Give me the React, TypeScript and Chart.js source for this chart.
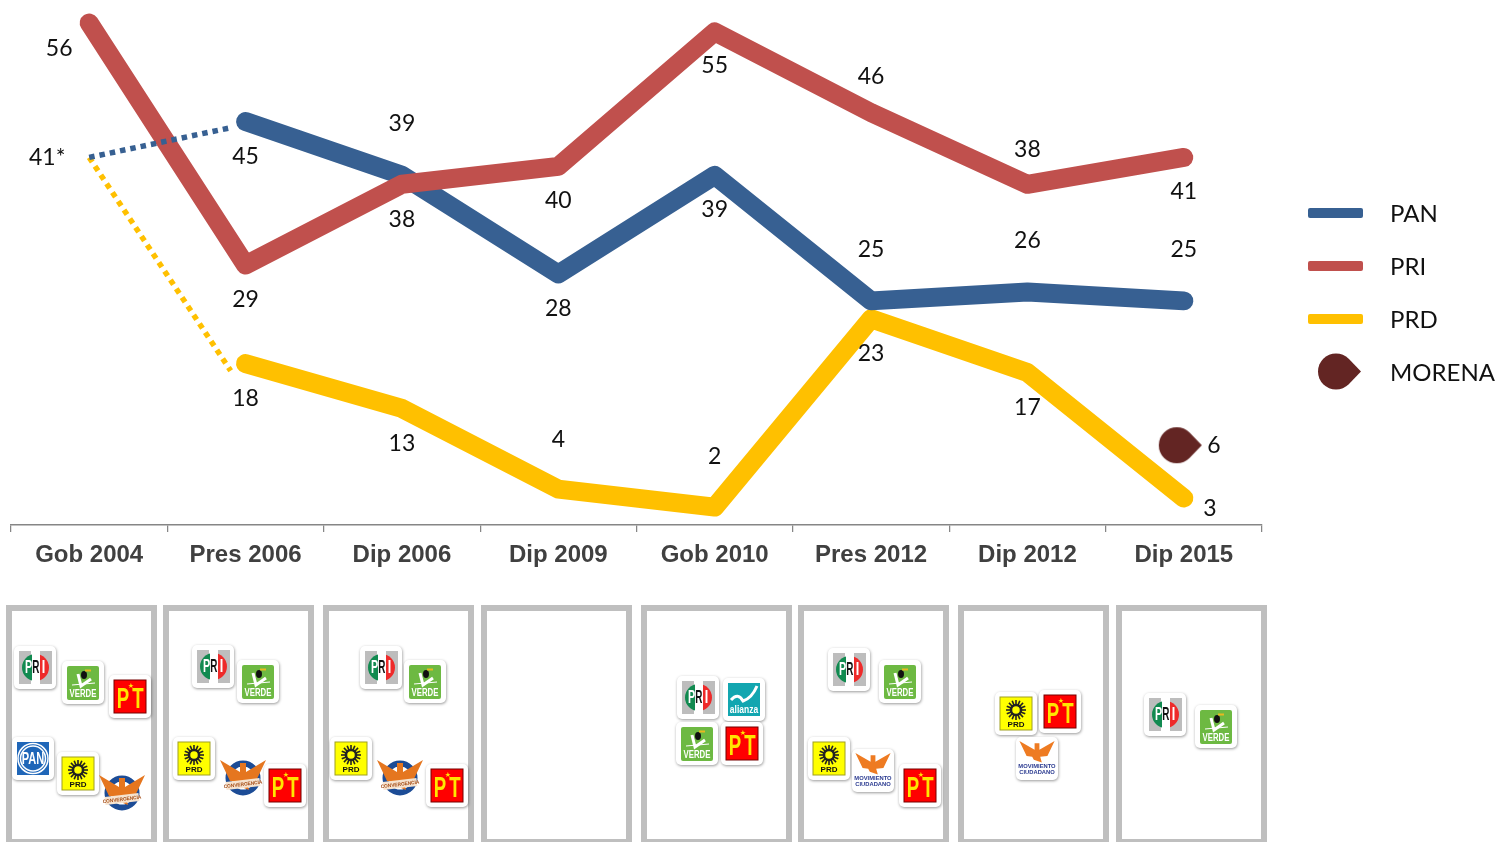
import React, { useEffect, useRef } from "react";
import { Chart, registerables } from "chart.js";

Chart.register(...registerables);

// ---------- data ----------
const categories = ["Gob 2004", "Pres 2006", "Dip 2006", "Dip 2009", "Gob 2010", "Pres 2012", "Dip 2012", "Dip 2015"];
const panValues = [null, 45, 39, 28, 39, 25, 26, 25];
const priValues = [56, 29, 38, 40, 55, 46, 38, 41];
const prdValues = [null, 18, 13, 4, 2, 23, 17, 3];
const morenaValues = [null, null, null, null, null, null, null, 6];
const coalitionValue = 41;
const coalitionLabel = "41*";
const panLink = [{ x: 0, y: coalitionValue }, { x: 0.9, y: 44.3 }];
const prdLink = [{ x: 0, y: coalitionValue }, { x: 0.905, y: 17.2 }];
const legendNames = ["PAN", "PRI", "PRD", "MORENA"];
const coalitions = [
  ["PRI", "VERDE", "PT", "PAN", "PRD", "CONV"],
  ["PRI", "VERDE", "PRD", "CONV", "PT"],
  ["PRI", "VERDE", "PRD", "CONV", "PT"],
  [],
  ["PRI", "ALIANZA", "VERDE", "PT"],
  ["PRI", "VERDE", "PRD", "MC", "PT"],
  ["PRD", "PT", "MC"],
  ["PRI", "VERDE"],
];

// ---------- layout & style ----------
const W = 1498, H = 842;
const BLUE = "#376092", RED = "#C0504D", GOLD = "#FFC000", MAROON = "#632523";
const TEXT_FONT = '"Lato"';
const LABEL_SIZE = 23;
const panelX = [6, 163, 323, 481, 641, 798, 958, 1116];
const logoPos = [
  [[14, 646], [62, 661], [109, 675], [12, 737], [57, 752], [99, 773]],
  [[192, 645], [237, 660], [173, 737], [220, 758], [264, 764]],
  [[360, 646], [404, 660], [330, 737], [377, 758], [426, 764]],
  [],
  [[677, 676], [723, 678], [676, 722], [721, 722]],
  [[828, 648], [879, 660], [808, 737], [852, 749], [899, 764]],
  [[995, 692], [1039, 690], [1016, 737]],
  [[1144, 693], [1195, 705]],
];
// label offsets from each point: [dx, dy]
const panOff = [null, [0, 35], [0, -52], [0, 35], [0, 34], [0, -51], [0, -51], [0, -51]];
const priOff = [[-30, 26], [0, 35], [0, 35], [0, 34], [0, 34], [0, -36], [0, -35], [0, 34]];
const prdOff = [null, [0, 35], [0, 35], [0, -50], [0, -50], [0, 35], [0, 35], [26, 10]];

function drop(ctx: CanvasRenderingContext2D, cx: number, cy: number) {
  ctx.fillStyle = MAROON;
  ctx.beginPath();
  ctx.arc(cx, cy, 18, Math.PI * 0.25, Math.PI * 1.75);
  ctx.lineTo(cx + 25, cy);
  ctx.closePath();
  ctx.fill();
}
function morenaPoint() {
  const c = document.createElement("canvas");
  c.width = 100; c.height = 100;
  drop(c.getContext("2d")!, 43, 24);
  return c;
}

function card(c: CanvasRenderingContext2D, x: number, y: number) {
  c.save();
  c.shadowColor = "rgba(0,0,0,0.4)"; c.shadowBlur = 3; c.shadowOffsetX = 0.5; c.shadowOffsetY = 1;
  c.fillStyle = "#fff";
  c.beginPath(); c.roundRect(x, y, 42, 43, 5); c.fill();
  c.restore();
}
// text, squeezed horizontally by sx
function txt(c: CanvasRenderingContext2D, s: string, x: number, y: number, font: string, color: string, sx = 1) {
  c.save();
  c.translate(x, y); c.scale(sx, 1);
  c.font = font; c.fillStyle = color; c.textAlign = "center"; c.textBaseline = "middle";
  c.fillText(s, 0, 0);
  c.restore();
}
const ARIAL = '"Liberation Sans"';
function logoPRI(c: CanvasRenderingContext2D, x: number, y: number) {
  card(c, x, y);
  c.fillStyle = "#bdbdbd"; c.fillRect(x + 5, y + 5, 12, 33); c.fillRect(x + 26, y + 5, 12, 33);
  c.fillStyle = "#fff"; c.fillRect(x + 17, y + 5, 9, 33);
  c.fillStyle = "#118a50"; c.beginPath(); c.arc(x + 21.5, y + 21.5, 13.5, Math.PI / 2, Math.PI * 1.5); c.fill();
  c.fillStyle = "#ee2a2a"; c.beginPath(); c.arc(x + 21.5, y + 21.5, 13.5, -Math.PI / 2, Math.PI / 2); c.fill();
  c.fillStyle = "#fff"; c.fillRect(x + 18, y + 8, 8, 27);
  txt(c, "P", x + 14.5, y + 22, `bold 18px ${ARIAL}`, "#fff", 0.6);
  txt(c, "R", x + 21.8, y + 22, `bold 18px ${ARIAL}`, "#111", 0.55);
  txt(c, "I", x + 29.5, y + 22, `bold 18px ${ARIAL}`, "#fff", 0.7);
}
function logoVerde(c: CanvasRenderingContext2D, x: number, y: number) {
  card(c, x, y);
  c.fillStyle = "#6db942"; c.beginPath(); c.roundRect(x + 5, y + 5, 32, 34, 2); c.fill();
  c.strokeStyle = "#fff"; c.lineWidth = 3; c.beginPath();
  c.moveTo(x + 16, y + 13); c.lineTo(x + 19, y + 25); c.lineTo(x + 29, y + 18); c.stroke();
  c.lineWidth = 1; c.beginPath(); c.moveTo(x + 10, y + 24); c.lineTo(x + 33, y + 22); c.stroke();
  c.fillStyle = "#111"; c.beginPath(); c.ellipse(x + 22, y + 14, 3, 4, 0, 0, 7); c.fill();
  c.fillStyle = "#e8b820"; c.fillRect(x + 23, y + 8.5, 6, 2);
  txt(c, "VERDE", x + 21, y + 33, `bold 10px ${ARIAL}`, "#fff", 0.78);
}
function logoPT(c: CanvasRenderingContext2D, x: number, y: number) {
  card(c, x, y);
  c.fillStyle = "#f00"; c.fillRect(x + 5, y + 5, 32, 33);
  c.strokeStyle = "#700"; c.lineWidth = 1; c.strokeRect(x + 5, y + 5, 32, 33);
  txt(c, "P", x + 14, y + 25, `bold 30px ${ARIAL}`, "#ffe600", 0.62);
  txt(c, "T", x + 29, y + 25, `bold 30px ${ARIAL}`, "#ffe600", 0.62);
  txt(c, "★", x + 22, y + 11, `7px "DejaVu Sans"`, "#ffe600");
}
function logoPAN(c: CanvasRenderingContext2D, x: number, y: number) {
  card(c, x, y);
  c.fillStyle = "#1f66b8"; c.fillRect(x + 5, y + 5, 32, 33);
  c.strokeStyle = "#fff"; c.lineWidth = 1.5;
  c.beginPath(); c.arc(x + 21, y + 21.5, 15, 0, 7); c.stroke();
  c.beginPath(); c.arc(x + 21, y + 21.5, 12.5, 0, 7); c.stroke();
  txt(c, "PAN", x + 21, y + 22, `bold 17px ${ARIAL}`, "#fff", 0.65);
}
function logoPRD(c: CanvasRenderingContext2D, x: number, y: number) {
  card(c, x, y);
  c.fillStyle = "#ffff00"; c.fillRect(x + 5, y + 5, 32, 33);
  c.strokeStyle = "#a0a020"; c.lineWidth = 1; c.strokeRect(x + 5, y + 5, 32, 33);
  const cx = x + 21, cy = y + 18;
  c.strokeStyle = "#222"; c.lineWidth = 1.6;
  for (let i = 0; i < 16; i++) {
    const a = (i / 16) * Math.PI * 2;
    c.beginPath(); c.moveTo(cx + Math.cos(a) * 5, cy + Math.sin(a) * 5); c.lineTo(cx + Math.cos(a) * 10, cy + Math.sin(a) * 10); c.stroke();
  }
  c.lineWidth = 2.5; c.beginPath(); c.arc(cx, cy, 5, 0, 7); c.stroke();
  txt(c, "PRD", x + 21, y + 33, `bold 8px ${ARIAL}`, "#111");
}
function wings(c: CanvasRenderingContext2D, cx: number, top: number, w: number, color: string) {
  c.fillStyle = color;
  c.beginPath();
  c.moveTo(cx - w, top); c.lineTo(cx - 3, top + 12); c.lineTo(cx - 3, top + 3); c.lineTo(cx + 3, top + 3); c.lineTo(cx + 3, top + 12);
  c.lineTo(cx + w, top); c.lineTo(cx + 13, top + 21); c.lineTo(cx + 4, top + 22); c.lineTo(cx + 6, top + 30); c.lineTo(cx - 4, top + 26); c.lineTo(cx - 6, top + 22);
  c.lineTo(cx - 13, top + 21); c.closePath(); c.fill();
}
function logoConv(c: CanvasRenderingContext2D, x: number, y: number) {
  const cx = x + 23, cy = y + 20;
  c.strokeStyle = "#1c4c96"; c.lineWidth = 6;
  c.beginPath(); c.arc(cx, cy, 14.5, 0, 7); c.stroke();
  wings(c, cx, y + 2, 23, "#e5761f");
  c.save(); c.translate(cx, y + 26); c.rotate(-0.12);
  c.fillStyle = "#f6e3cf"; c.fillRect(-17, -4, 34, 8);
  txt(c, "CONVERGENCIA", 0, 0.5, `bold 5px ${ARIAL}`, "#a54c16", 0.95);
  c.restore();
}
function logoMC(c: CanvasRenderingContext2D, x: number, y: number) {
  card(c, x, y);
  c.save(); c.translate(x + 21, y + 4); c.scale(0.8, 0.72);
  wings(c, 0, 0, 22, "#ee7b22");
  c.restore();
  txt(c, "MOVIMIENTO", x + 21, y + 29, `bold 5.8px ${ARIAL}`, "#2a3a90");
  txt(c, "CIUDADANO", x + 21, y + 35, `bold 5.8px ${ARIAL}`, "#2a3a90");
}
function logoAlianza(c: CanvasRenderingContext2D, x: number, y: number) {
  card(c, x, y);
  c.fillStyle = "#12a6b0"; c.fillRect(x + 5, y + 5, 32, 33);
  c.strokeStyle = "#fff"; c.lineWidth = 3; c.beginPath();
  c.moveTo(x + 8, y + 22); c.quadraticCurveTo(x + 15, y + 14, x + 20, y + 23); c.quadraticCurveTo(x + 29, y + 20, x + 34, y + 8); c.stroke();
  txt(c, "alianza", x + 21, y + 32, `bold 10px ${ARIAL}`, "#fff", 0.85);
}
const logoDraw: Record<string, (c: CanvasRenderingContext2D, x: number, y: number) => void> = {
  PRI: logoPRI, VERDE: logoVerde, PT: logoPT, PAN: logoPAN, PRD: logoPRD, CONV: logoConv, MC: logoMC, ALIANZA: logoAlianza,
};

const decorations = {
  id: "decorations",
  beforeDatasetsDraw(chart: any) {
    const c: CanvasRenderingContext2D = chart.ctx;
    c.save();
    c.strokeStyle = "#bfbfbf"; c.lineWidth = 6;
    panelX.forEach((x) => c.strokeRect(x + 3, 608, 145, 234));
    coalitions.forEach((list, i) => {
      list.forEach((name, j) => logoDraw[name](c, logoPos[i][j][0], logoPos[i][j][1]));
    });
    c.restore();
  },
  afterDatasetsDraw(chart: any) {
    const c: CanvasRenderingContext2D = chart.ctx;
    const xs = chart.scales.x, ys = chart.scales.y;
    c.save();
    c.textAlign = "center"; c.textBaseline = "middle";
    c.font = `${LABEL_SIZE}px ${TEXT_FONT}`; c.fillStyle = "#111";
    const put = (vals: (number | null)[], off: any[]) =>
      vals.forEach((v, i) => {
        if (v == null) return;
        c.fillText(String(v), xs.getPixelForValue(i) + off[i][0], ys.getPixelForValue(v) + off[i][1]);
      });
    put(panValues, panOff);
    put(priValues, priOff);
    put(prdValues, prdOff);
    c.fillText(String(morenaValues[7]), xs.getPixelForValue(7) + 30, ys.getPixelForValue(6) - 26);
    c.fillText(coalitionLabel, xs.getPixelForValue(0) - 42, ys.getPixelForValue(coalitionValue));
    // legend
    const colors = [BLUE, RED, GOLD];
    legendNames.forEach((name, i) => {
      const y = 213 + i * 53;
      if (i < 3) {
        c.fillStyle = colors[i];
        c.beginPath(); c.roundRect(1308, y - 5, 55, 10, 2); c.fill();
      } else {
        drop(c, 1336, y - 0.5);
      }
      c.textAlign = "left"; c.fillStyle = "#111";
      c.font = `${LABEL_SIZE + 1}px ${TEXT_FONT}`;
      c.fillText(name, 1390, y + 1.5);
    });
    c.restore();
  },
};

const solid = { type: "line", fill: false, tension: 0, borderWidth: 19, borderCapStyle: "round", borderJoinStyle: "round", pointRadius: 0, spanGaps: false, clip: false };
const dotted = { type: "line", xAxisID: "xLink", fill: false, tension: 0, borderWidth: 5.5, borderCapStyle: "butt", borderDash: [5.5, 5], pointRadius: 0, clip: false };

export default function App() {
  const ref = useRef<HTMLCanvasElement>(null);
  useEffect(() => {
    const chart = new Chart(ref.current!, {
      type: "line",
      data: {
        labels: categories,
        datasets: [
          { ...solid, label: "PAN", data: panValues, borderColor: BLUE, order: 4 },
          { ...solid, label: "PRI", data: priValues, borderColor: RED, order: 3 },
          { ...solid, label: "PRD", data: prdValues, borderColor: GOLD, order: 5 },
          { ...dotted, label: "PAN link", data: panLink, borderColor: BLUE, order: 2 },
          { ...dotted, label: "PRD link", data: prdLink, borderColor: GOLD, order: 6 },
          { type: "line", label: "MORENA", data: morenaValues, showLine: false, pointStyle: morenaPoint(), pointRadius: 1, clip: false, order: 1 },
        ] as any,
      },
      options: {
        responsive: false,
        animation: false,
        layout: { padding: { left: 11, right: 236, top: 0, bottom: 257 } },
        plugins: { legend: { display: false }, tooltip: { enabled: false } },
        scales: {
          x: {
            type: "category",
            offset: true,
            afterFit: (s: any) => { s.height = 60; },
            border: { color: "#868686", width: 1.5 },
            grid: { offset: true, drawOnChartArea: false, drawTicks: true, tickLength: 7, color: "#868686", lineWidth: 1.25 },
            ticks: { color: "#404040", padding: 9, maxRotation: 0, font: { family: '"Liberation Sans"', size: 24, weight: "bold" } },
          },
          xLink: { type: "linear", display: false, min: -0.5, max: 7.5, ticks: { display: false } },
          y: { display: false, min: 0, max: 58, ticks: { display: false } },
        },
      } as any,
      plugins: [decorations],
    });
    return () => chart.destroy();
  }, []);
  return (
    <div style={{ position: "absolute", left: 0, top: 0, width: W, height: H, overflow: "hidden", background: "#fff" }}>
      <canvas ref={ref} width={W} height={H} style={{ display: "block" }} />
    </div>
  );
}
